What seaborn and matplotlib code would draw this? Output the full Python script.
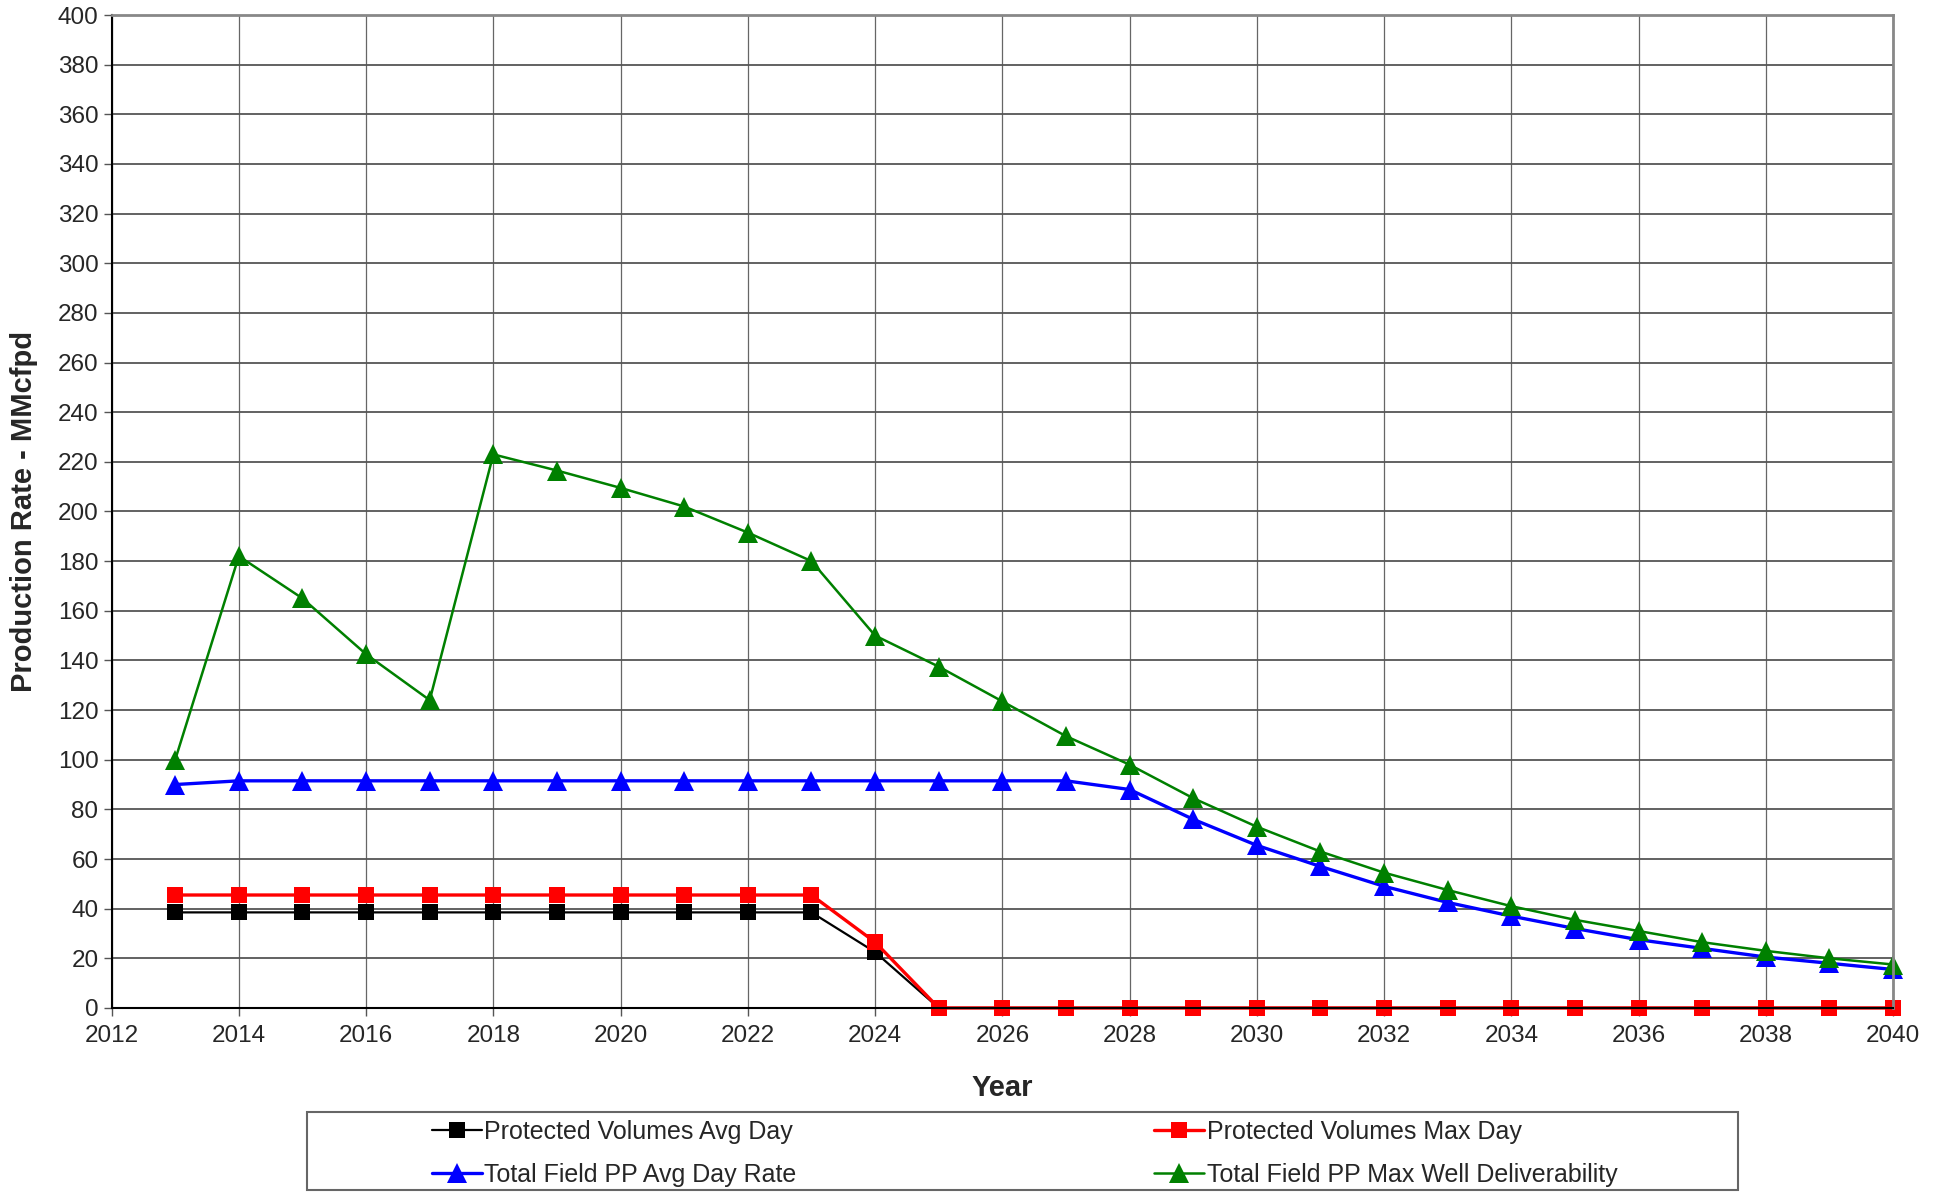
import numpy as np
import pandas as pd
import matplotlib
matplotlib.use("Agg")
import matplotlib.pyplot as plt
import seaborn as sns
from matplotlib.patches import Rectangle

years = list(range(2013, 2041))

avg_day = [38.5] * 11 + [22.5] + [0] * 16
max_day = [45.5] * 11 + [26.5] + [0] * 16
field_avg = [90, 91.5, 91.5, 91.5, 91.5, 91.5, 91.5, 91.5, 91.5, 91.5, 91.5, 91.5,
             91.5, 91.5, 91.5, 88, 76, 65.5, 57, 49, 42.5, 37, 32, 27.5, 24, 20.5, 18, 15.5]
field_max = [100, 182, 165, 142.5, 124, 223, 216.5, 209.5, 202, 191.5, 180, 150,
             137.5, 123.5, 109.5, 98, 84.5, 73, 63, 54.5, 47.5, 41, 35.5, 31, 26.5, 23, 20, 17.5]

sns.set_style("white")
plt.rcParams['font.family'] = ['Liberation Sans', 'DejaVu Sans']

fig, ax = plt.subplots(figsize=(19.44, 11.92), dpi=100)
fig.subplots_adjust(left=0.0574, right=0.9738, top=0.9874, bottom=0.1544)

# grid
ax.set_axisbelow(True)
ax.grid(axis="y", color="#555555", linewidth=1.3)
ax.grid(axis="x", color="#666666", linewidth=0.9)

sns.lineplot(x=years, y=avg_day, ax=ax, color="black", marker="s", markersize=12,
             linewidth=1.6, markeredgewidth=0, clip_on=False, label="Protected Volumes Avg Day")
sns.lineplot(x=years, y=max_day, ax=ax, color="#ff0000", marker="s", markersize=12,
             linewidth=2.4, markeredgewidth=0, clip_on=False, label="Protected Volumes Max Day")
sns.lineplot(x=years, y=field_avg, ax=ax, color="#0000ff", marker="^", markersize=14,
             linewidth=2.4, markeredgewidth=0, clip_on=False, label="Total Field PP Avg Day Rate")
sns.lineplot(x=years, y=field_max, ax=ax, color="#008000", marker="^", markersize=14,
             linewidth=1.8, markeredgewidth=0, clip_on=False,
             label="Total Field PP Max Well Deliverability")

ax.set_xlim(2012, 2040)
ax.set_ylim(0, 400)
ax.set_xticks(range(2012, 2041, 2))
ax.set_yticks(range(0, 401, 20))
ax.tick_params(axis="both", labelsize=17.5, length=6, width=1, color="#555555",
               direction="out", bottom=True, left=True)
ax.tick_params(axis="x", pad=6)

for s in ["left", "bottom"]:
    ax.spines[s].set_color("black")
    ax.spines[s].set_linewidth(1.5)
for s in ["top", "right"]:
    ax.spines[s].set_color("#888888")
    ax.spines[s].set_linewidth(2)

ax.set_xlabel("Year", fontsize=21, fontweight="bold", labelpad=20)
ax.set_ylabel("Production Rate - MMcfpd", fontsize=21, fontweight="bold", labelpad=14)

# legend below plot, rows: black/red then blue/green
h, l = ax.get_legend_handles_labels()
order = [0, 2, 1, 3]
leg = ax.legend([h[i] for i in order], [l[i] for i in order],
                loc="center", bbox_to_anchor=(0.527, 0.0325), bbox_transform=fig.transFigure,
                ncol=2, frameon=False, fontsize=18, handlelength=2.0, handletextpad=0.1,
                columnspacing=14.3, labelspacing=0.75)
fig.patches.append(Rectangle((307 / 1944, 1 - 1190 / 1192), (1738 - 307) / 1944, 78 / 1192,
                             transform=fig.transFigure, fill=False, edgecolor="#666666",
                             linewidth=1.5))

fig.savefig("out.png", dpi=100)
